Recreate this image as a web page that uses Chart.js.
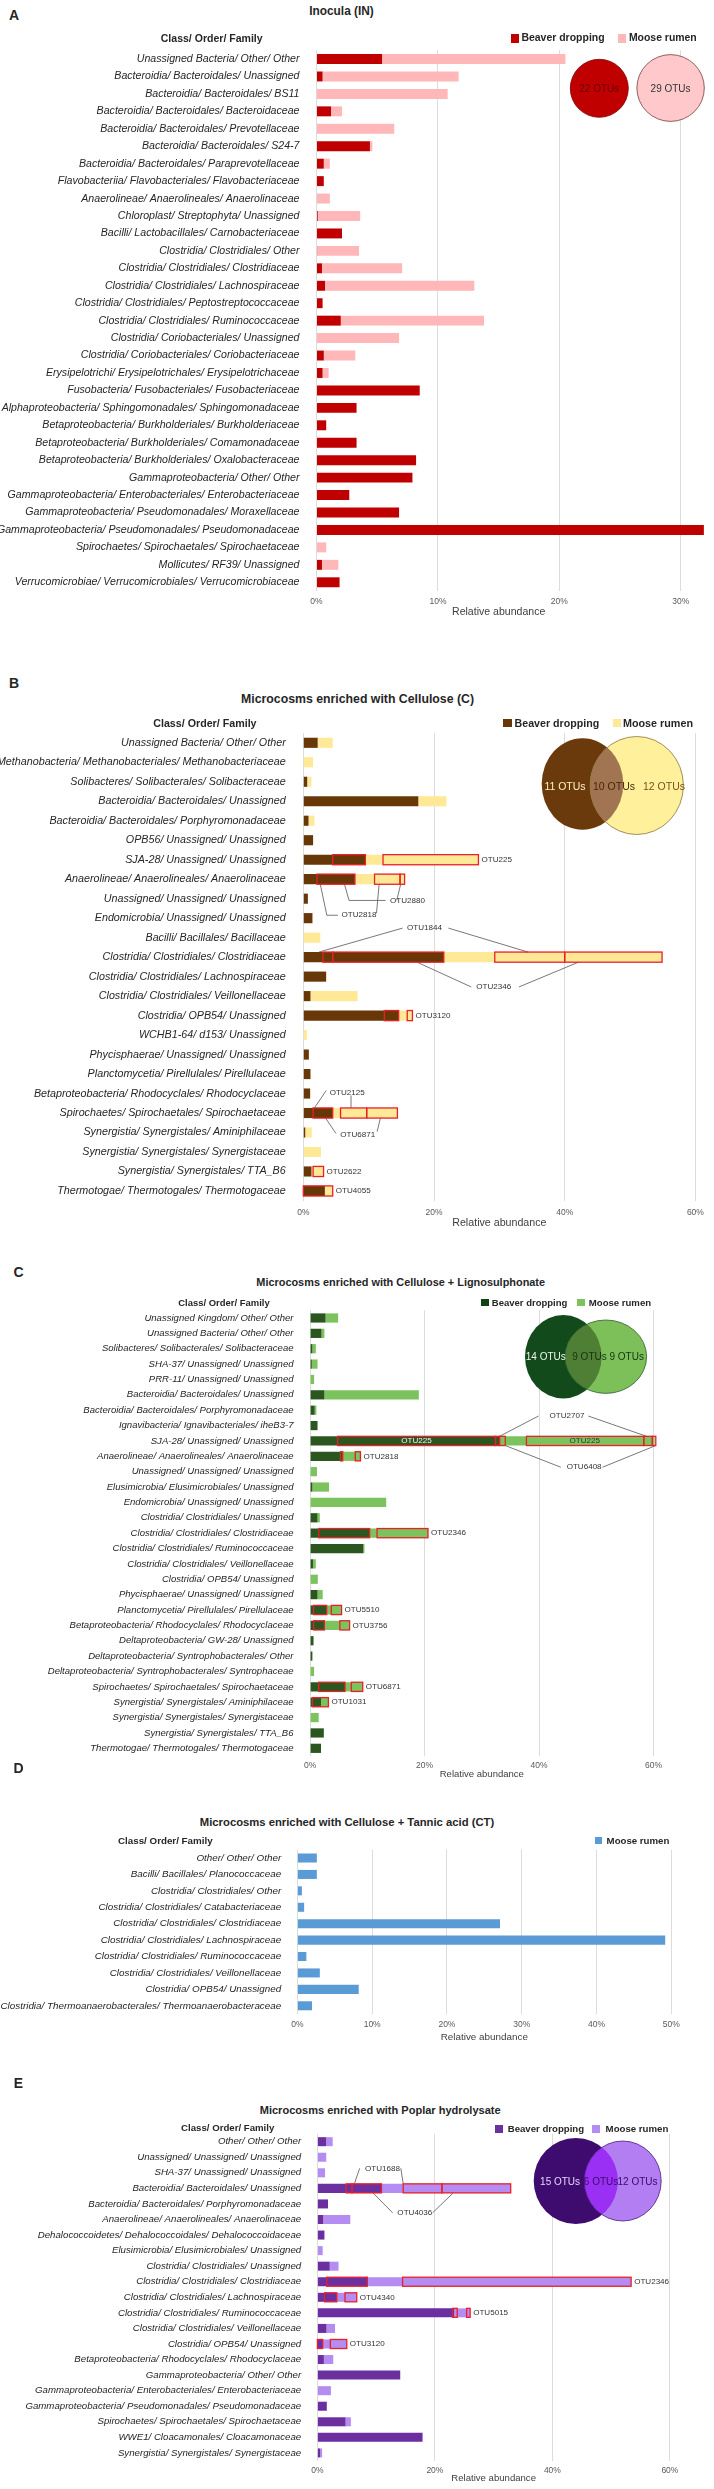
<!DOCTYPE html>
<html>
<head>
<meta charset="utf-8">
<script src="https://cdn.jsdelivr.net/npm/chart.js@4.4.1/dist/chart.umd.min.js"></script>
<style>
  body { margin: 0; background: #fff; width: 714px; height: 2489px; position: relative; overflow: hidden; }
  .lbl { position: absolute; white-space: nowrap; line-height: 1; color: #262626;
         font-family: 'Liberation Sans', Arial, sans-serif; }
  .sw { position: absolute; }
  svg { position: absolute; left: 0; top: 0; }
</style>
</head>
<body>
<script>
// ---- data ----
const labelsA = [
  'Unassigned Bacteria/ Other/ Other', 'Bacteroidia/ Bacteroidales/ Unassigned', 'Bacteroidia/ Bacteroidales/ BS11',
  'Bacteroidia/ Bacteroidales/ Bacteroidaceae', 'Bacteroidia/ Bacteroidales/ Prevotellaceae', 'Bacteroidia/ Bacteroidales/ S24-7',
  'Bacteroidia/ Bacteroidales/ Paraprevotellaceae', 'Flavobacteriia/ Flavobacteriales/ Flavobacteriaceae',
  'Anaerolineae/ Anaerolineales/ Anaerolinaceae', 'Chloroplast/ Streptophyta/ Unassigned', 'Bacilli/ Lactobacillales/ Carnobacteriaceae',
  'Clostridia/ Clostridiales/ Other', 'Clostridia/ Clostridiales/ Clostridiaceae', 'Clostridia/ Clostridiales/ Lachnospiraceae',
  'Clostridia/ Clostridiales/ Peptostreptococcaceae', 'Clostridia/ Clostridiales/ Ruminococcaceae', 'Clostridia/ Coriobacteriales/ Unassigned',
  'Clostridia/ Coriobacteriales/ Coriobacteriaceae', 'Erysipelotrichi/ Erysipelotrichales/ Erysipelotrichaceae',
  'Fusobacteria/ Fusobacteriales/ Fusobacteriaceae', 'Alphaproteobacteria/ Sphingomonadales/ Sphingomonadaceae',
  'Betaproteobacteria/ Burkholderiales/ Burkholderiaceae', 'Betaproteobacteria/ Burkholderiales/ Comamonadaceae',
  'Betaproteobacteria/ Burkholderiales/ Oxalobacteraceae', 'Gammaproteobacteria/ Other/ Other',
  'Gammaproteobacteria/ Enterobacteriales/ Enterobacteriaceae', 'Gammaproteobacteria/ Pseudomonadales/ Moraxellaceae',
  'Gammaproteobacteria/ Pseudomonadales/ Pseudomonadaceae', 'Spirochaetes/ Spirochaetales/ Spirochaetaceae',
  'Mollicutes/ RF39/ Unassigned', 'Verrucomicrobiae/ Verrucomicrobiales/ Verrucomicrobiaceae'
];
const beaverA = [5.4, 0.5, 0, 1.2, 0, 4.4, 0.6, 0.6, 0, 0.1, 2.1, 0.05, 0.45, 0.7, 0.5, 2.0, 0, 0.6, 0.5, 8.5, 3.3, 0.8, 3.3, 8.2, 7.9, 2.7, 6.8, 31.9, 0, 0.45, 1.9];
const mooseA = [15.1, 11.2, 10.8, 0.9, 6.4, 0.2, 0.5, 0, 1.1, 3.5, 0, 3.45, 6.6, 12.3, 0, 11.8, 6.8, 2.6, 0.5, 0, 0, 0, 0, 0, 0, 0, 0, 0, 0.8, 1.35, 0];

const labelsB = [
  'Unassigned Bacteria/ Other/ Other', 'Methanobacteria/ Methanobacteriales/ Methanobacteriaceae', 'Solibacteres/ Solibacterales/ Solibacteraceae',
  'Bacteroidia/ Bacteroidales/ Unassigned', 'Bacteroidia/ Bacteroidales/ Porphyromonadaceae', 'OPB56/ Unassigned/ Unassigned',
  'SJA-28/ Unassigned/ Unassigned', 'Anaerolineae/ Anaerolineales/ Anaerolinaceae', 'Unassigned/ Unassigned/ Unassigned',
  'Endomicrobia/ Unassigned/ Unassigned', 'Bacilli/ Bacillales/ Bacillaceae', 'Clostridia/ Clostridiales/ Clostridiaceae',
  'Clostridia/ Clostridiales/ Lachnospiraceae', 'Clostridia/ Clostridiales/ Veillonellaceae', 'Clostridia/ OPB54/ Unassigned',
  'WCHB1-64/ d153/ Unassigned', 'Phycisphaerae/ Unassigned/ Unassigned', 'Planctomycetia/ Pirellulales/ Pirellulaceae',
  'Betaproteobacteria/ Rhodocyclales/ Rhodocyclaceae', 'Spirochaetes/ Spirochaetales/ Spirochaetaceae',
  'Synergistia/ Synergistales/ Aminiphilaceae', 'Synergistia/ Synergistales/ Synergistaceae', 'Synergistia/ Synergistales/ TTA_B6',
  'Thermotogae/ Thermotogales/ Thermotogaceae'
];
const beaverB = [2.2, 0, 0.6, 17.6, 0.8, 1.5, 9.5, 7.9, 0.7, 1.4, 0, 21.5, 3.5, 1.1, 14.6, 0, 0.85, 1.1, 1.05, 4.5, 0.3, 0, 1.25, 3.3];
const mooseB = [2.3, 1.5, 0.65, 4.3, 0.9, 0, 17.3, 7.6, 0, 0, 2.6, 33.4, 0, 7.2, 2.1, 0.55, 0, 0, 0, 9.9, 1.0, 2.7, 1.8, 1.2];

const labelsC = [
  'Unassigned Kingdom/ Other/ Other', 'Unassigned Bacteria/ Other/ Other', 'Solibacteres/ Solibacterales/ Solibacteraceae',
  'SHA-37/ Unassigned/ Unassigned', 'PRR-11/ Unassigned/ Unassigned', 'Bacteroidia/ Bacteroidales/ Unassigned',
  'Bacteroidia/ Bacteroidales/ Porphyromonadaceae', 'Ignavibacteria/ Ignavibacteriales/ iheB3-7', 'SJA-28/ Unassigned/ Unassigned',
  'Anaerolineae/ Anaerolineales/ Anaerolinaceae', 'Unassigned/ Unassigned/ Unassigned', 'Elusimicrobia/ Elusimicrobiales/ Unassigned',
  'Endomicrobia/ Unassigned/ Unassigned', 'Clostridia/ Clostridiales/ Unassigned', 'Clostridia/ Clostridiales/ Clostridiaceae',
  'Clostridia/ Clostridiales/ Ruminococcaceae', 'Clostridia/ Clostridiales/ Veillonellaceae', 'Clostridia/ OPB54/ Unassigned',
  'Phycisphaerae/ Unassigned/ Unassigned', 'Planctomycetia/ Pirellulales/ Pirellulaceae', 'Betaproteobacteria/ Rhodocyclales/ Rhodocyclaceae',
  'Deltaproteobacteria/ GW-28/ Unassigned', 'Deltaproteobacteria/ Syntrophobacterales/ Other',
  'Deltaproteobacteria/ Syntrophobacterales/ Syntrophaceae', 'Spirochaetes/ Spirochaetales/ Spirochaetaceae',
  'Synergistia/ Synergistales/ Aminiphilaceae', 'Synergistia/ Synergistales/ Synergistaceae', 'Synergistia/ Synergistales/ TTA_B6',
  'Thermotogae/ Thermotogales/ Thermotogaceae'
];
const beaverC = [2.7, 2.0, 0.4, 0.3, 0, 2.5, 0.8, 1.3, 33.1, 5.6, 0, 0.4, 0, 1.3, 10.4, 9.3, 0.5, 0, 1.3, 2.9, 2.5, 0.6, 0.4, 0, 6.1, 1.9, 0, 2.4, 1.9];
const mooseC = [2.2, 0.5, 0.6, 1.0, 0.7, 16.5, 0.3, 0, 27.1, 3.2, 1.2, 2.9, 13.3, 0.4, 10.2, 0.2, 0.5, 1.35, 0.9, 2.6, 4.4, 0, 0, 0.7, 3.1, 1.3, 1.5, 0, 0];

const labelsD = [
  'Other/ Other/ Other', 'Bacilli/ Bacillales/ Planococcaceae', 'Clostridia/ Clostridiales/ Other',
  'Clostridia/ Clostridiales/ Catabacteriaceae', 'Clostridia/ Clostridiales/ Clostridiaceae', 'Clostridia/ Clostridiales/ Lachnospiraceae',
  'Clostridia/ Clostridiales/ Ruminococcaceae', 'Clostridia/ Clostridiales/ Veillonellaceae', 'Clostridia/ OPB54/ Unassigned',
  'Clostridia/ Thermoanaerobacterales/ Thermoanaerobacteraceae'
];
const mooseD = [2.6, 2.6, 0.6, 0.9, 27.1, 49.2, 1.2, 3.0, 8.2, 1.95];

const labelsE = [
  'Other/ Other/ Other', 'Unassigned/ Unassigned/ Unassigned', 'SHA-37/ Unassigned/ Unassigned', 'Bacteroidia/ Bacteroidales/ Unassigned',
  'Bacteroidia/ Bacteroidales/ Porphyromonadaceae', 'Anaerolineae/ Anaerolineales/ Anaerolinaceae',
  'Dehalococcoidetes/ Dehalococcoidales/ Dehalococcoidaceae', 'Elusimicrobia/ Elusimicrobiales/ Unassigned',
  'Clostridia/ Clostridiales/ Unassigned', 'Clostridia/ Clostridiales/ Clostridiaceae', 'Clostridia/ Clostridiales/ Lachnospiraceae',
  'Clostridia/ Clostridiales/ Ruminococcaceae', 'Clostridia/ Clostridiales/ Veillonellaceae', 'Clostridia/ OPB54/ Unassigned',
  'Betaproteobacteria/ Rhodocyclales/ Rhodocyclaceae', 'Gammaproteobacteria/ Other/ Other',
  'Gammaproteobacteria/ Enterobacteriales/ Enterobacteriaceae', 'Gammaproteobacteria/ Pseudomonadales/ Pseudomonadaceae',
  'Spirochaetes/ Spirochaetales/ Spirochaetaceae', 'WWE1/ Cloacamonales/ Cloacamonaceae', 'Synergistia/ Synergistales/ Synergistaceae'
];
const beaverE = [1.5, 0, 0, 10.9, 1.8, 1.0, 1.2, 0, 2.1, 8.5, 3.3, 23.3, 1.55, 0.9, 1.1, 14.1, 0, 1.6, 4.8, 17.9, 0.45];
const mooseE = [1.1, 1.5, 1.3, 22.0, 0, 4.6, 0, 0.9, 1.5, 44.9, 3.4, 2.7, 1.45, 4.1, 1.6, 0, 2.3, 0, 0.9, 0, 0.35];

// highlighted OTUs: [row, from %, to %]
const otuBoxesB = [[6, 4.5, 9.5], [6, 12.2, 26.8], [7, 2.1, 7.9], [7, 10.9, 14.8], [7, 14.8, 15.5],
  [11, 3.0, 4.5], [11, 4.5, 21.5], [11, 29.3, 40.0], [11, 40.0, 54.9], [14, 12.4, 14.6], [14, 15.9, 16.7],
  [19, 1.5, 4.5], [19, 5.7, 9.7], [19, 9.7, 14.4], [22, 1.5, 3.1], [23, 0, 4.5]];
const otuTagsB = [
  { text: 'OTU225', x: 26.8, row: 6 }, { text: 'OTU3120', x: 16.7, row: 14 }, { text: 'OTU2622', x: 3.1, row: 22 },
  { text: 'OTU4055', x: 4.5, row: 23 }, { text: 'OTU2880', x: 12.8, row: 8.09 }, { text: 'OTU2818', x: 5.4, row: 8.85 },
  { text: 'OTU1844', x: 15.4, row: 9.51 }, { text: 'OTU2346', x: 26.0, row: 12.53 }, { text: 'OTU2125', x: 3.6, row: 17.95 },
  { text: 'OTU6871', x: 5.2, row: 20.1 }
];
const otuLinksB = [
  [[2.6, 7.26], [3.6, 8.85], [5.3, 8.85]], [[11.6, 7.26], [11.2, 8.75]],
  [[6.3, 7.26], [7.0, 8.09], [12.6, 8.09]], [[14.9, 7.26], [14.3, 8.09]],
  [[2.4, 10.74], [15.2, 9.51]], [[22.2, 9.51], [34.4, 10.74]],
  [[17.4, 11.26], [25.7, 12.53]], [[33.0, 12.53], [42.1, 11.26]],
  [[3.5, 17.85], [1.7, 18.74]], [[7.3, 18.1], [7.3, 18.74]],
  [[3.4, 19.26], [5.0, 20.05]], [[11.8, 19.26], [11.3, 19.95]]
];

const otuBoxesC = [[8, 4.8, 32.4], [8, 32.4, 33.1], [8, 33.1, 34.1], [8, 37.8, 58.3], [8, 58.3, 59.8], [8, 59.8, 60.4],
  [9, 5.3, 5.7], [9, 7.9, 8.8], [14, 1.5, 10.4], [14, 11.7, 20.6], [19, 0.6, 2.9], [19, 3.7, 5.5],
  [20, 0.6, 2.5], [20, 5.2, 6.9], [24, 1.5, 6.1], [24, 7.2, 9.2], [25, 0.4, 3.2]];
const otuTagsC = [
  { text: 'OTU225', x: 18.6, row: 8, inside: true, color: '#f2f2f2' }, { text: 'OTU225', x: 48.0, row: 8, inside: true },
  { text: 'OTU2707', x: 41.3, row: 6.38 }, { text: 'OTU6408', x: 44.3, row: 9.71 }, { text: 'OTU2818', x: 8.8, row: 9 },
  { text: 'OTU2346', x: 20.6, row: 14 }, { text: 'OTU5510', x: 5.5, row: 19 }, { text: 'OTU3756', x: 6.9, row: 20 },
  { text: 'OTU6871', x: 9.2, row: 24 }, { text: 'OTU1031', x: 3.2, row: 25 }
];
const otuLinksC = [
  [[33.1, 7.7], [39.9, 6.38]], [[48.6, 6.38], [58.8, 7.7]],
  [[34.1, 8.3], [43.8, 9.71]], [[51.1, 9.71], [60.4, 8.3]]
];

const otuBoxesE = [[3, 4.9, 5.9], [3, 5.9, 10.9], [3, 14.6, 21.2], [3, 21.2, 32.9], [9, 1.6, 8.5], [9, 14.5, 53.4],
  [10, 1.2, 3.3], [10, 4.7, 6.7], [11, 23.0, 23.8], [11, 25.4, 26.0], [13, 0, 0.9], [13, 2.2, 5.0]];
const otuTagsE = [
  { text: 'OTU1688', x: 7.6, row: 1.71 }, { text: 'OTU4036', x: 13.1, row: 4.57 }, { text: 'OTU2346', x: 53.4, row: 9 },
  { text: 'OTU4340', x: 6.7, row: 10 }, { text: 'OTU5015', x: 26.0, row: 11 }, { text: 'OTU3120', x: 5.0, row: 13 }
];
const otuLinksE = [
  [[7.2, 1.71], [6.3, 2.7]], [[14.2, 1.71], [14.6, 2.7]],
  [[12.8, 4.57], [9.5, 3.3]], [[19.6, 4.57], [23.1, 3.3]]
];

// ---- helpers ----
const FAM = "'Liberation Sans', Arial, sans-serif";
Chart.defaults.font.family = FAM;
const mctx = document.createElement('canvas').getContext('2d');
function fitSize(text, target, weight = 'normal', style = 'normal') {
  mctx.font = `${style} ${weight} 20px ${FAM}`;
  return 20 * target / mctx.measureText(text).width;
}

function addText(str, x, y, size, opt = {}) {
  const d = document.createElement('div');
  d.className = 'lbl';
  d.textContent = str;
  d.style.left = x + 'px';
  d.style.top = y + 'px';
  d.style.fontSize = size + 'px';
  d.style.fontWeight = opt.bold ? 'bold' : 'normal';
  d.style.transform = opt.start ? 'translate(0,-50%)' : 'translate(-50%,-50%)';
  document.body.appendChild(d);
}

function otuPlugin(p) {
  return {
    id: 'otu' + p.key,
    afterDatasetsDraw(chart) {
      const { ctx, scales: { x, y } } = chart;
      const rowH = Math.abs(y.getPixelForValue(1) - y.getPixelForValue(0)) * p.cat;
      ctx.save();
      ctx.strokeStyle = '#555';
      ctx.lineWidth = 0.8;
      (p.links || []).forEach(pts => {
        ctx.beginPath();
        pts.forEach(([v, r], i) => {
          const X = x.getPixelForValue(v), Y = y.getPixelForValue(r);
          if (i) ctx.lineTo(X, Y); else ctx.moveTo(X, Y);
        });
        ctx.stroke();
      });
      ctx.strokeStyle = '#E8202A';
      ctx.lineWidth = 1.3;
      (p.boxes || []).forEach(([r, a, b]) => {
        const X0 = x.getPixelForValue(a), X1 = x.getPixelForValue(b), Y = y.getPixelForValue(r);
        ctx.strokeRect(X0, Y - rowH / 2, X1 - X0, rowH);
      });
      ctx.font = `${fitSize('OTU2818', 35)}px ${FAM}`;
      ctx.textBaseline = 'middle';
      (p.tags || []).forEach(t => {
        ctx.fillStyle = t.color || '#333';
        ctx.textAlign = t.inside ? 'center' : 'left';
        ctx.fillText(t.text, x.getPixelForValue(t.x) + (t.inside ? 0 : 3), y.getPixelForValue(t.row));
      });
      ctx.restore();
    }
  };
}

function buildPanel(p) {
  const cv = document.createElement('canvas');
  const top = Math.round(p.top - 16);
  const padTop = p.top - top;
  const h = Math.round(p.bottom - p.top + padTop + p.axisH);
  cv.width = 714;
  cv.height = h;
  cv.style.cssText = `position:absolute;left:0;top:${top}px;width:714px;height:${h}px`;
  document.body.appendChild(cv);

  const ySize = fitSize(p.fitLabel[0], p.fitLabel[1], 'normal', 'italic');
  const xTitleSize = fitSize('Relative abundance', p.axisTitleW);
  new Chart(cv, {
    type: 'bar',
    data: {
      labels: p.labels,
      datasets: p.series.map(s => ({
        label: s.name, data: s.data, backgroundColor: s.color,
        barPercentage: 1, categoryPercentage: p.cat, clip: false
      }))
    },
    options: {
      indexAxis: 'y',
      responsive: false,
      animation: false,
      devicePixelRatio: 1,
      layout: { padding: { top: padTop, left: 0, bottom: 0, right: 714 - p.right } },
      plugins: { legend: { display: false }, title: { display: false }, tooltip: { enabled: false } },
      scales: {
        x: {
          stacked: true, min: 0, max: p.max,
          grid: { color: '#DCDCDC', drawTicks: false },
          border: { display: false },
          ticks: { stepSize: p.step, padding: p.tickPad, color: '#595959', font: { size: 8.5 }, callback: v => v + '%' },
          title: { display: true, text: 'Relative abundance', color: '#404040', font: { size: xTitleSize }, padding: 0 },
          afterFit: s => { s.height = p.axisH; }
        },
        y: {
          stacked: true,
          grid: { display: false },
          border: { display: false },
          ticks: { autoSkip: false, padding: p.labPad, color: '#262626', font: { size: ySize, style: 'italic' } },
          afterFit: s => { s.width = p.left; }
        }
      }
    },
    plugins: [otuPlugin(p)]
  });
}

// ---- panels ----
const BEAVER = 'Beaver dropping', MOOSE = 'Moose rumen';
const panels = [
  { key: 'A', labels: labelsA, series: [{ name: BEAVER, data: beaverA, color: '#C00000' }, { name: MOOSE, data: mooseA, color: '#FFB7B9' }],
    max: 30, step: 10, left: 316.5, right: 680.8, top: 50.3, bottom: 590.7, cat: 0.57, axisH: 27, tickPad: 6, labPad: 9,
    fitLabel: ['Gammaproteobacteria/ Pseudomonadales/ Pseudomonadaceae', 302.8], axisTitleW: 93.4 },
  { key: 'B', labels: labelsB, series: [{ name: BEAVER, data: beaverB, color: '#673708' }, { name: MOOSE, data: mooseB, color: '#FFE996' }],
    max: 60, step: 20, left: 303.3, right: 695.4, top: 732.5, bottom: 1200.6, cat: 0.52, axisH: 28.3, tickPad: 7, labPad: 9.6,
    fitLabel: ['Methanobacteria/ Methanobacteriales/ Methanobacteriaceae', 289.2], axisTitleW: 94.3,
    boxes: otuBoxesB, tags: otuTagsB, links: otuLinksB },
  { key: 'C', labels: labelsC, series: [{ name: BEAVER, data: beaverC, color: '#2C5620' }, { name: MOOSE, data: mooseC, color: '#7CC35E' }],
    max: 60, step: 20, left: 310.1, right: 653.5, top: 1310.3, bottom: 1756, cat: 0.6, axisH: 24, tickPad: 5, labPad: 8.6,
    fitLabel: ['Deltaproteobacteria/ Syntrophobacterales/ Syntrophaceae', 245.9], axisTitleW: 84.2,
    boxes: otuBoxesC, tags: otuTagsC, links: otuLinksC },
  { key: 'D', labels: labelsD, series: [{ name: MOOSE, data: mooseD, color: '#5B9BD5' }],
    max: 50, step: 10, left: 297.4, right: 671.2, top: 1849.8, bottom: 2014.2, cat: 0.55, axisH: 29, tickPad: 6, labPad: 8.2,
    fitLabel: ['Clostridia/ Thermoanaerobacterales/ Thermoanaerobacteraceae', 281], axisTitleW: 87.4 },
  { key: 'E', labels: labelsE, series: [{ name: BEAVER, data: beaverE, color: '#6B2FA0' }, { name: MOOSE, data: mooseE, color: '#B58CF2' }],
    max: 60, step: 20, left: 317.4, right: 669.9, top: 2133.9, bottom: 2460.5, cat: 0.58, axisH: 23.3, tickPad: 5, labPad: 8.2,
    fitLabel: ['Dehalococcoidetes/ Dehalococcoidales/ Dehalococcoidaceae', 263.7], axisTitleW: 84.7,
    boxes: otuBoxesE, tags: otuTagsE, links: otuLinksE }
];
panels.forEach(buildPanel);

// ---- headings, legends ----
const heads = [
  { letter: ['A', 14, 15], title: ['Inocula (IN)', 341.5, 12, 64.7], header: [211.7, 38, 102], sw: [8, 9], ly: 38,
    legend: [[BEAVER, 511, 521.4, 83.3, '#C00000'], [MOOSE, 618, 628.9, 67.9, '#FFB7B9']] },
  { letter: ['B', 14, 682.7], title: ['Microcosms enriched with Cellulose (C)', 357.5, 699.3, 233.2], header: [204.9, 723.3, 103.4], sw: [8.5, 8.3], ly: 723.3,
    legend: [[BEAVER, 503.2, 514.6, 84.7, '#673708'], [MOOSE, 612.5, 623, 70.1, '#FFE996']] },
  { letter: ['C', 18.5, 1271.7], title: ['Microcosms enriched with Cellulose + Lignosulphonate', 400.7, 1281.7, 289.2], header: [224, 1302.7, 91.5], sw: [7.5, 7.5], ly: 1302.7,
    legend: [[BEAVER, 481.3, 491.8, 75.6, '#123F14'], [MOOSE, 577.4, 588.8, 62.4, '#7CC35E']] },
  { letter: ['D', 18.5, 1768], title: ['Microcosms enriched with Cellulose + Tannic acid (CT)', 347, 1823, 294.6], header: [165.3, 1840.7, 94.7], sw: [7.7, 7.5], ly: 1840.7,
    legend: [[MOOSE, 594.7, 606.6, 62.8, '#5B9BD5']] },
  { letter: ['E', 18.5, 2083], title: ['Microcosms enriched with Poplar hydrolysate', 380.2, 2111, 241.3], header: [227.7, 2128, 93.4], sw: [7.7, 7.7], ly: 2128.8,
    legend: [[BEAVER, 495, 507.7, 76.5, '#6B2FA0'], [MOOSE, 592, 605.6, 62.8, '#B58CF2']] }
];
heads.forEach(hd => {
  addText(hd.letter[0], hd.letter[1], hd.letter[2], 14, { bold: true });
  addText(hd.title[0], hd.title[1], hd.title[2], fitSize(hd.title[0], hd.title[3], 'bold'), { bold: true });
  addText('Class/ Order/ Family', hd.header[0], hd.header[1], fitSize('Class/ Order/ Family', hd.header[2], 'bold'), { bold: true });
  hd.legend.forEach(([name, sx, tx, tw, col]) => {
    const s = document.createElement('div');
    s.className = 'sw';
    s.style.cssText = `left:${sx}px;top:${hd.ly - hd.sw[1] / 2}px;width:${hd.sw[0]}px;height:${hd.sw[1]}px;background:${col}`;
    document.body.appendChild(s);
    addText(name, tx, hd.ly, fitSize(name, tw, 'bold'), { bold: true, start: true });
  });
});

// ---- Venn insets ----
const venns = [
  { l: [599.3, 88.3, 29, 29, '#C00000'], r: [670.6, 88, 33.7, 33.4, '#FFC8CA'], ov: null, stroke: '#7a3a3a', fs: 10,
    texts: [['22 OTUs', 599.3, 88.3, '#6a0000'], ['29 OTUs', 670.6, 88, '#333']] },
  { l: [582.5, 784, 40.8, 45.8, '#6B3A0C'], r: [636.7, 785.5, 46.7, 49, '#FFF19C'], ov: '#A27552', stroke: '#8a7440', fs: 10.5,
    texts: [['11 OTUs', 565, 786, '#FFF3C0'], ['10 OTUs', 614, 786, '#4a2508'], ['12 OTUs', 664, 786, '#7a5020']] },
  { l: [563.3, 1356.7, 38.3, 41.7, '#134A1C'], r: [605.8, 1356.7, 40.8, 36.7, '#7DC05A'], ov: '#4E7F35', stroke: '#2f5a2a', fs: 10,
    texts: [['14 OTUs', 545.8, 1356.7, '#F0F8EC'], ['9 OTUs', 589.5, 1356.7, '#143214'], ['9 OTUs', 626.7, 1356.7, '#143214']] },
  { l: [575.8, 2181, 42.1, 43, '#3E0B6E'], r: [622.7, 2181, 38.5, 40, '#B27EF2'], ov: '#9B30F5', stroke: '#4a1a7a', fs: 10,
    texts: [['15 OTUs', 560.1, 2181, '#E6D5FF'], ['6 OTUs', 601.1, 2181, '#3a0a6a'], ['12 OTUs', 637.5, 2181, '#3a0a6a']] }
];
const NS = 'http://www.w3.org/2000/svg';
const svg = document.createElementNS(NS, 'svg');
svg.setAttribute('width', 714);
svg.setAttribute('height', 2489);
document.body.appendChild(svg);
function el(tag, attrs, parent = svg) {
  const e = document.createElementNS(NS, tag);
  Object.entries(attrs).forEach(([k, v]) => e.setAttribute(k, v));
  parent.appendChild(e);
  return e;
}
venns.forEach((v, i) => {
  const [lx, ly, lrx, lry, lc] = v.l, [rx, ry, rrx, rry, rc] = v.r;
  el('ellipse', { cx: lx, cy: ly, rx: lrx, ry: lry, fill: lc, stroke: v.ov ? 'none' : '#7a0000', 'stroke-width': 0.8 });
  el('ellipse', { cx: rx, cy: ry, rx: rrx, ry: rry, fill: rc });
  if (v.ov) {
    const cp = el('clipPath', { id: 'vc' + i });
    el('ellipse', { cx: rx, cy: ry, rx: rrx, ry: rry }, cp);
    el('ellipse', { cx: lx, cy: ly, rx: lrx, ry: lry, fill: v.ov, 'clip-path': `url(#vc${i})` });
  }
  el('ellipse', { cx: rx, cy: ry, rx: rrx, ry: rry, fill: 'none', stroke: v.stroke, 'stroke-width': 0.8 });
  v.texts.forEach(([t, x, y, c]) => {
    const te = el('text', { x, y, fill: c, 'font-size': v.fs, 'text-anchor': 'middle', 'dominant-baseline': 'central',
      'font-family': 'Liberation Sans, Arial, sans-serif' });
    te.textContent = t;
  });
});
</script>
</body>
</html>
